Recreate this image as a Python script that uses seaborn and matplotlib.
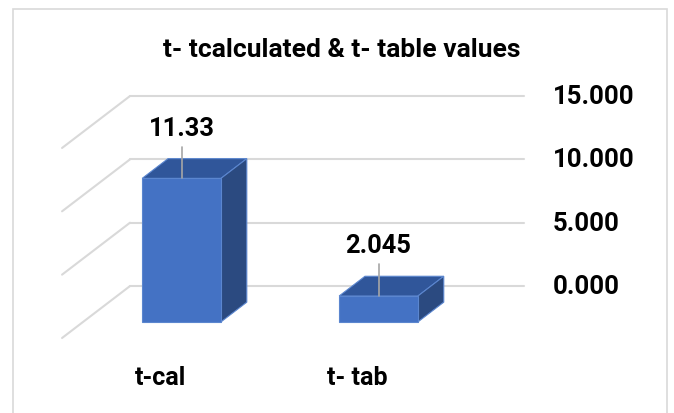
import matplotlib
matplotlib.use("Agg")
import matplotlib.pyplot as plt
import seaborn as sns
import pandas as pd

# data
categories = ["t-cal", "t- tab"]
values = [11.33, 2.045]
value_labels = ["11.33", "2.045"]
tick_values = [0, 5, 10, 15]
tick_labels = ["0.000", "5.000", "10.000", "15.000"]
title = "t- tcalculated & t- table values"

# oblique "3D" projection (category units / value units)
DX, DY = 0.345, 4.10     # full floor depth offset
D0, D1 = 0.31, 0.69      # bar depth span inside floor
BAR_W = 0.4

FRONT = "#4472C4"
TOP = "#30569A"
SIDE = "#2B4A80"
EDGE = "#5B86CF"
GRID = "#D9D9D9"

sns.set_style("white")
plt.rcParams["font.family"] = ["Roboto", "DejaVu Sans"]

fig = plt.figure(figsize=(6.74, 4.14), dpi=100)
ax = fig.add_axes([0, 0, 1, 1])

df = pd.DataFrame({"cat": categories, "val": values})
sns.barplot(data=df, x="cat", y="val", color=FRONT, width=BAR_W, saturation=1,
            edgecolor=EDGE, linewidth=0.8, ax=ax, zorder=4)

# gridlines: side wall diagonals + back wall
x_left, x_right = -0.5, 1.5
for v in tick_values:
    ax.plot([x_left, x_left + DX], [v, v + DY], color=GRID, lw=1.5, zorder=1)
    ax.plot([x_left + DX, x_right + DX], [v + DY, v + DY], color=GRID, lw=1.5, zorder=1)

for p, v in zip(ax.patches, values):
    x0 = p.get_x() + D0 * DX
    y0 = D0 * DY
    w = p.get_width()
    p.set_x(x0)
    p.set_y(y0)
    ddx, ddy = (D1 - D0) * DX, (D1 - D0) * DY
    top = plt.Polygon([(x0, y0 + v), (x0 + w, y0 + v), (x0 + w + ddx, y0 + v + ddy),
                       (x0 + ddx, y0 + v + ddy)], closed=True, facecolor=TOP,
                      edgecolor=EDGE, lw=0.8, zorder=3)
    side = plt.Polygon([(x0 + w, y0), (x0 + w + ddx, y0 + ddy), (x0 + w + ddx, y0 + v + ddy),
                        (x0 + w, y0 + v)], closed=True, facecolor=SIDE,
                       edgecolor=EDGE, lw=0.8, zorder=3)
    ax.add_patch(top)
    ax.add_patch(side)

# value labels with leader lines
for i, (v, lab) in enumerate(zip(values, value_labels)):
    cx = i + D0 * DX
    ytop = v + D0 * DY
    ax.plot([cx, cx], [ytop, ytop + 2.5], color="#A6A6A6", lw=1.2, zorder=5)
    ax.text(cx, ytop + 4.0, lab, ha="center", va="center", fontsize=18.4,
            fontweight="bold", color="black", zorder=6)

# value axis labels on the right
for v, lab in zip(tick_values, tick_labels):
    ax.text(1.99, v + DY, lab, ha="left", va="center", fontsize=18.5,
            fontweight="bold", color="black")

# category labels
for i, c in enumerate(categories):
    ax.text(i, -3.08, c, ha="center", va="center", fontsize=18,
            fontweight="bold", color="black")

ax.set_xlim(-0.815, 2.607)
ax.set_ylim(-5.92, 26.76)
ax.axis("off")

fig.text(0.507, 0.879, title, ha="center", va="center", fontsize=19,
         fontweight="bold", color="black")

border = plt.Rectangle((0.019, -0.01), 0.971, 0.986, transform=fig.transFigure,
                       fill=False, edgecolor=GRID, lw=1.2)
fig.patches.append(border)

fig.savefig("out.png", dpi=100)
